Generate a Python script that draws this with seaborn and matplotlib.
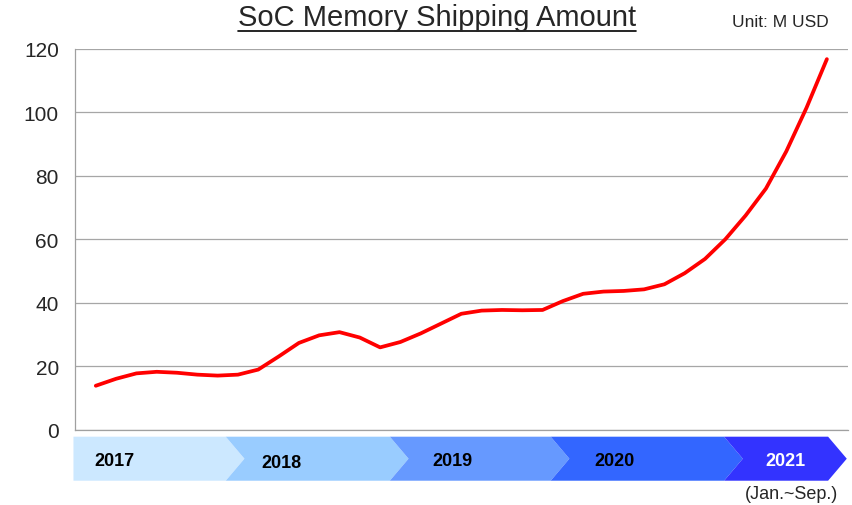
import numpy as np
import pandas as pd
import seaborn as sns
import matplotlib.pyplot as plt
from matplotlib.patches import Polygon
from matplotlib.lines import Line2D

# values, every half quarter from Q1 2017 to Q3 2021
quarter_pos = np.arange(0, 18.5, 0.5)
amount = [13.8, 16.0, 17.7, 18.2, 17.9, 17.3, 17.0, 17.3, 18.9, 23.0,
          27.3, 29.7, 30.7, 29.0, 25.9, 27.6, 30.3, 33.4, 36.5, 37.5,
          37.7, 37.6, 37.7, 40.5, 42.8, 43.5, 43.7, 44.2, 45.8, 49.3,
          53.8, 60.0, 67.5, 76.0, 87.7, 101.5, 116.8]
years = ['2017', '2018', '2019', '2020', '2021']
year_colors = ['#CCE8FF', '#99CCFF', '#6699FF', '#3366FF', '#3333FF']
year_text_colors = ['black', 'black', 'black', 'black', 'white']
y_ticks = [0, 20, 40, 60, 80, 100, 120]

df = pd.DataFrame({'quarter': quarter_pos, 'amount': amount})

sns.set_style('white')
plt.rcParams['font.family'] = ['Liberation Sans', 'DejaVu Sans']

fig = plt.figure(figsize=(8.52, 5.06), dpi=100)
ax = fig.add_axes([0.0886, 0.1492, 0.9067, 0.752])

sns.lineplot(data=df, x='quarter', y='amount', color='#FF0000', linewidth=2.7,
             ax=ax, zorder=3, solid_joinstyle='round', solid_capstyle='round')

xlim = (-0.5, 18.52)
ax.set_xlim(*xlim)
ax.set_ylim(0, 120)
ax.set_yticks(y_ticks)
ax.set_yticklabels([str(t) for t in y_ticks], fontsize=15)
ax.set_xticks([])
ax.set_xlabel('')
ax.set_ylabel('')
ax.grid(axis='y', color='#A6A6A6', linewidth=0.9)
ax.tick_params(axis='y', length=5, width=0.9, color='#A0A0A0', pad=7)
for side in ['top', 'right']:
    ax.spines[side].set_visible(False)
for side in ['left', 'bottom']:
    ax.spines[side].set_color('#A0A0A0')
    ax.spines[side].set_linewidth(0.9)

# year chevron band under the axis
band = fig.add_axes([0.0886, 0.048, 0.9067, 0.087])
band.set_xlim(*xlim)
band.set_ylim(0, 1)
band.axis('off')
bounds = [-0.55, 3.2, 7.24, 11.2, 15.47, 18.03]
label_pos = [0.47, 4.58, 8.79, 12.78, 16.97]
label_y = [0.47, 0.42, 0.47, 0.47, 0.45]
depth = 0.46
for i, yr in enumerate(years):
    l, r = bounds[i], bounds[i + 1]
    if i == 0:
        pts = [(l, 1), (r, 1), (r + depth, 0.5), (r, 0), (l, 0)]
    else:
        pts = [(l, 1), (r, 1), (r + depth, 0.5), (r, 0), (l, 0), (l + depth, 0.5)]
    band.add_patch(Polygon(pts, closed=True, facecolor=year_colors[i],
                           edgecolor='none', clip_on=False))
    band.text(label_pos[i], label_y[i], yr, ha='center', va='center', fontsize=13,
              fontweight='bold', color=year_text_colors[i])

fig.text(0.984, 0.022, '(Jan.~Sep.)', ha='right', va='center', fontsize=13)

title = fig.text(0.513, 0.965, 'SoC Memory Shipping Amount', ha='center',
                 va='center', fontsize=21)
fig.text(0.973, 0.956, 'Unit: M USD', ha='right', va='center', fontsize=12.5)

# underline the title
fig.canvas.draw()
bb = title.get_window_extent().transformed(fig.transFigure.inverted())
fig.add_artist(Line2D([bb.x0, bb.x1], [0.936, 0.936], color='black',
                      linewidth=1.2, transform=fig.transFigure))

fig.savefig('out.png', dpi=100)
